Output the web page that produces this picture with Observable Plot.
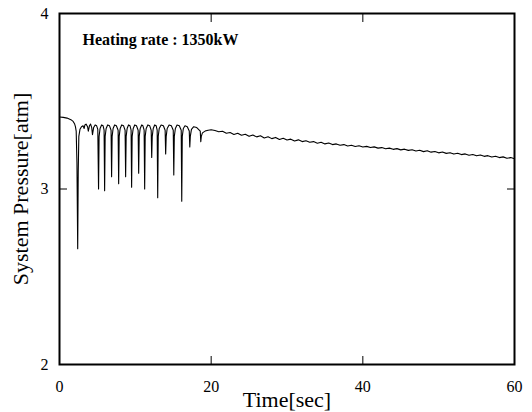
<!DOCTYPE html>
<html><head><meta charset="utf-8">
<script src="https://cdn.jsdelivr.net/npm/d3@7"></script>
<script src="https://cdn.jsdelivr.net/npm/@observablehq/plot@0.6"></script>
<style>html,body{margin:0;padding:0;background:#fff} svg text{font-family:"Liberation Serif","Times New Roman",serif;}</style>
</head><body><div id="chart"></div>
<script>
// Time [sec]
const timeSec = [
  0, 0.5, 1.0, 1.5, 1.8, 2.0, 2.1, 2.2, 2.3, 2.4, 2.47, 2.55, 2.7, 2.9,
  3.1, 3.25, 3.35, 3.5, 3.7, 3.8, 3.95, 4.1, 4.25, 4.35, 4.5, 4.7, 4.9, 5.05,
  5.15, 5.22, 5.35, 5.55, 5.75, 5.88,
  5.95, 6.02, 6.15, 6.35, 6.6, 6.8,
  6.87, 6.94, 7.07, 7.27, 7.5, 7.73,
  7.8, 7.87, 8.0, 8.2, 8.45, 8.65,
  8.72, 8.79, 8.92, 9.1, 9.3, 9.44,
  9.51, 9.58, 9.72, 9.92, 10.15, 10.37,
  10.44, 10.51, 10.64, 10.84, 11.0, 11.16,
  11.23, 11.3, 11.43, 11.65, 11.9, 12.09,
  12.16, 12.23, 12.36, 12.55, 12.75, 12.88,
  12.95, 13.02, 13.15, 13.4, 13.7, 13.93,
  14.0, 14.07, 14.2, 14.45, 14.75, 15.0,
  15.07, 15.14, 15.28, 15.5, 15.8, 16.05,
  16.12, 16.19, 16.33, 16.55, 16.85, 17.11,
  17.18, 17.25, 17.4, 17.7, 18.1, 18.56,
  18.63, 18.7, 18.85, 19.2, 19.6, 20.0,
  20.5, 21.0, 21.5, 22.0, 22.5, 23.0, 23.5, 24.0, 24.5, 25.0,
  25.5, 26.0, 26.5, 27.0, 27.5, 28.0, 28.5, 29.0, 29.5, 30.0,
  30.5, 31.0, 31.5, 32.0, 32.5, 33.0, 33.5, 34.0, 34.5, 35.0,
  35.5, 36.0, 36.5, 37.0, 37.5, 38.0, 38.5, 39.0, 39.5, 40.0,
  40.5, 41.0, 41.5, 42.0, 42.5, 43.0, 43.5, 44.0, 44.5, 45.0,
  45.5, 46.0, 46.5, 47.0, 47.5, 48.0, 48.5, 49.0, 49.5, 50.0,
  50.5, 51.0, 51.5, 52.0, 52.5, 53.0, 53.5, 54.0, 54.5, 55.0,
  55.5, 56.0, 56.5, 57.0, 57.5, 58.0, 58.5, 59.0, 59.5, 60.0
];
// System pressure [atm]
const pressureAtm = [
  3.41, 3.408, 3.404, 3.395, 3.385, 3.37, 3.355, 3.33, 3.15, 2.66, 3.10, 3.30, 3.34, 3.355,
  3.36, 3.345, 3.365, 3.37, 3.355, 3.33, 3.36, 3.37, 3.35, 3.31, 3.35, 3.365, 3.36, 3.34,
  3.00, 3.30, 3.345, 3.365, 3.36, 3.335,
  2.99, 3.30, 3.345, 3.365, 3.36, 3.335,
  3.07, 3.30, 3.345, 3.365, 3.36, 3.335,
  3.03, 3.30, 3.345, 3.365, 3.36, 3.335,
  3.07, 3.30, 3.345, 3.365, 3.36, 3.335,
  3.01, 3.30, 3.345, 3.365, 3.36, 3.335,
  3.09, 3.30, 3.345, 3.365, 3.36, 3.335,
  3.00, 3.30, 3.345, 3.365, 3.36, 3.335,
  3.18, 3.30, 3.345, 3.365, 3.36, 3.335,
  2.95, 3.30, 3.345, 3.365, 3.36, 3.335,
  3.20, 3.30, 3.345, 3.365, 3.36, 3.335,
  3.08, 3.30, 3.345, 3.365, 3.36, 3.335,
  2.93, 3.30, 3.345, 3.36, 3.355, 3.33,
  3.24, 3.30, 3.34, 3.355, 3.35, 3.33,
  3.27, 3.30, 3.32, 3.33, 3.335, 3.338,
  3.333, 3.326, 3.329, 3.318, 3.322, 3.311, 3.318, 3.306, 3.312, 3.300,
  3.308, 3.297, 3.303, 3.291, 3.298, 3.287, 3.294, 3.282, 3.289, 3.279,
  3.284, 3.274, 3.280, 3.270, 3.275, 3.266, 3.270, 3.261, 3.266, 3.257,
  3.262, 3.253, 3.257, 3.249, 3.253, 3.245, 3.249, 3.242, 3.246, 3.239,
  3.243, 3.236, 3.240, 3.233, 3.236, 3.229, 3.233, 3.226, 3.230, 3.223,
  3.227, 3.220, 3.224, 3.217, 3.221, 3.213, 3.218, 3.210, 3.214, 3.206,
  3.211, 3.203, 3.207, 3.199, 3.204, 3.196, 3.200, 3.192, 3.197, 3.189,
  3.194, 3.186, 3.190, 3.182, 3.187, 3.179, 3.183, 3.175, 3.179, 3.172
];
const xTicks = [0, 20, 40, 60];
const yTicks = [2, 3, 4];
const innerXTicks = [20, 40];
const innerYTicks = [3];
const titleText = ["Heating rate : 1350kW"];
const xLabel = ["Time[sec]"];
const yLabel = ["System Pressure[atm]"];
const serif = "'Liberation Serif', 'Times New Roman', serif";

const chart = Plot.plot({
  width: 532,
  height: 412,
  marginLeft: 59,
  marginRight: 18,
  marginTop: 13,
  marginBottom: 48,
  style: {fontFamily: serif, fontSize: "16px", color: "#000", background: "#fff"},
  x: {domain: [0, 60], label: null},
  y: {domain: [2, 4], label: null},
  marks: [
    Plot.line(timeSec, {x: timeSec, y: pressureAtm, stroke: "#000", strokeWidth: 1.1}),
    Plot.frame({stroke: "#000", strokeWidth: 2}),
    Plot.axisX(innerXTicks, {anchor: "bottom", tickSize: 8, dy: -8, fill: "none", label: null}),
    Plot.axisX(innerXTicks, {anchor: "top", tickSize: 8, dy: 8, fill: "none", label: null}),
    Plot.axisY(innerYTicks, {anchor: "left", tickSize: 8, dx: 8, fill: "none", label: null}),
    Plot.axisY(innerYTicks, {anchor: "right", tickSize: 8, dx: -8, fill: "none", label: null}),
    Plot.axisX(xTicks, {anchor: "bottom", tickSize: 0, tickPadding: 16, label: null, fontSize: 16, fontFamily: serif, tickFormat: d3.format("d")}),
    Plot.axisY(yTicks, {anchor: "left", tickSize: 0, tickPadding: 11, label: null, fontSize: 16, fontFamily: serif, tickFormat: d3.format("d")}),
    Plot.text(xLabel, {frameAnchor: "bottom", dy: 42, lineAnchor: "bottom", textAnchor: "middle", fontSize: 22, fontFamily: serif}),
    Plot.text(yLabel, {frameAnchor: "left", dx: -39, rotate: -90, textAnchor: "middle", lineAnchor: "middle", fontSize: 22, fontFamily: serif}),
    Plot.text(titleText, {frameAnchor: "top-left", dx: 23, dy: 31, lineAnchor: "bottom", textAnchor: "start", fontSize: 16, fontWeight: "bold", fontFamily: serif})
  ]
});
document.getElementById("chart").append(chart);
</script>
</body></html>
